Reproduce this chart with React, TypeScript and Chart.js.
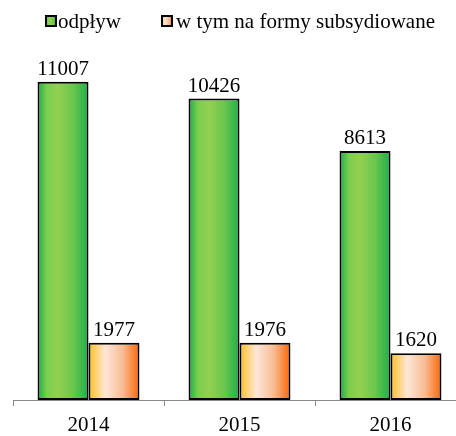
import React, { useEffect, useRef } from "react";
import { Chart, registerables } from "chart.js";

Chart.register(...registerables);

const categories = ["2014", "2015", "2016"];
const seriesNames = ["odpływ", "w tym na formy subsydiowane"];
const odplyw = [11007, 10426, 8613];
const subsydiowane = [1977, 1976, 1620];

const FONT = "'Liberation Serif', 'Times New Roman', serif";

const greenStops: [number, string][] = [
  [0, "#16ad4b"],
  [0.18, "#7ccd4f"],
  [0.4, "#92d050"],
  [0.7, "#6cc64e"],
  [1, "#1caf4b"],
];
const orangeStops: [number, string][] = [
  [0, "#ffbf1f"],
  [0.33, "#fde6d8"],
  [0.68, "#f7bb92"],
  [1, "#ff6400"],
];

function makeGradient(ctx: CanvasRenderingContext2D, left: number, right: number, stops: [number, string][]) {
  const g = ctx.createLinearGradient(left, 0, right, 0);
  stops.forEach(([o, c]) => g.addColorStop(o, c));
  return g;
}

const gradientPlugin = {
  id: "barGradients",
  beforeDatasetsDraw(chart: any) {
    const ctx = chart.ctx;
    chart.data.datasets.forEach((ds: any, di: number) => {
      const meta = chart.getDatasetMeta(di);
      const stops = di === 0 ? greenStops : orangeStops;
      meta.data.forEach((el: any) => {
        const { x, width } = el.getProps(["x", "width"], true);
        const g = makeGradient(ctx, x - width / 2, x + width / 2, stops);
        el.options = Object.assign({}, el.options, { backgroundColor: g });
      });
    });
  },
};

const labelPlugin = {
  id: "valueLabels",
  afterDatasetsDraw(chart: any) {
    const ctx = chart.ctx;
    ctx.save();
    ctx.font = `21px ${FONT}`;
    ctx.fillStyle = "#000";
    ctx.textAlign = "center";
    ctx.textBaseline = "alphabetic";
    chart.data.datasets.forEach((ds: any, di: number) => {
      const meta = chart.getDatasetMeta(di);
      meta.data.forEach((el: any, i: number) => {
        const { x, y } = el.getProps(["x", "y"], true);
        ctx.fillText(String(ds.data[i]), x, y - 7);
      });
    });
    ctx.restore();
  },
};

const legendPlugin = {
  id: "customLegend",
  afterDraw(chart: any) {
    const ctx = chart.ctx;
    ctx.save();
    const items = [
      { box: 45, text: 58, stops: greenStops },
      { box: 161, text: 176, stops: orangeStops },
    ];
    const top = 15;
    const size = 12;
    items.forEach((it, i) => {
      ctx.fillStyle = makeGradient(ctx, it.box, it.box + size, it.stops);
      ctx.fillRect(it.box, top, size, size);
      ctx.lineWidth = 2;
      ctx.strokeStyle = "#000";
      ctx.strokeRect(it.box + 1, top + 1, size - 2, size - 2);
      ctx.fillStyle = "#000";
      ctx.font = `21px ${FONT}`;
      ctx.textAlign = "left";
      ctx.textBaseline = "alphabetic";
      ctx.fillText(seriesNames[i], it.text, 28);
    });
    ctx.restore();
  },
};

export default function App() {
  const ref = useRef<HTMLCanvasElement | null>(null);
  useEffect(() => {
    if (!ref.current) return;
    const chart = new Chart(ref.current, {
      type: "bar",
      data: {
        labels: categories,
        datasets: [
          {
            label: seriesNames[0],
            data: odplyw,
            backgroundColor: "#92d050",
            borderColor: "#000",
            borderWidth: 2,
            borderSkipped: false,
            categoryPercentage: 0.675,
            barPercentage: 1,
          },
          {
            label: seriesNames[1],
            data: subsydiowane,
            backgroundColor: "#fde9d9",
            borderColor: "#000",
            borderWidth: 2,
            borderSkipped: false,
            categoryPercentage: 0.675,
            barPercentage: 1,
          },
        ],
      },
      options: {
        responsive: false,
        animation: false,
        devicePixelRatio: 1,
        layout: { padding: { top: 53, left: 13, right: 14, bottom: 0 } },
        plugins: { legend: { display: false }, tooltip: { enabled: false } },
        scales: {
          y: { display: false, min: 0, max: 12000 },
          x: {
            afterFit: (s: any) => {
              s.height = 36;
            },
            grid: {
              offset: true,
              drawOnChartArea: false,
              drawTicks: true,
              tickLength: 6,
              color: "#888",
              lineWidth: 1,
            },
            border: { display: true, color: "#888", width: 1 },
            ticks: { color: "#000", font: { family: FONT, size: 21 }, padding: 7 },
          },
        },
      },
      plugins: [gradientPlugin, labelPlugin, legendPlugin],
    });
    return () => chart.destroy();
  }, []);
  return (
    <canvas
      ref={ref}
      width={480}
      height={436}
      style={{ position: "fixed", left: 0, top: 0, width: 480, height: 436 }}
    />
  );
}
